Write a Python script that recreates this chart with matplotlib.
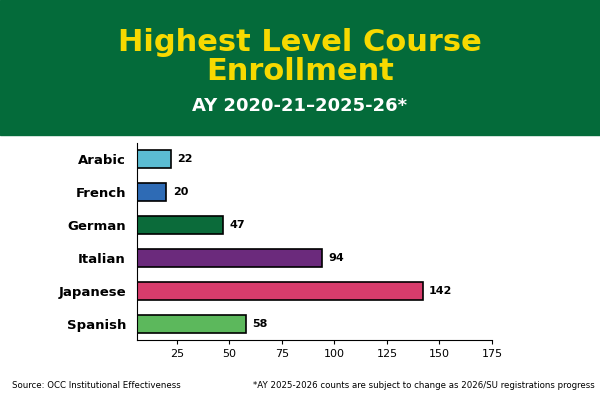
import matplotlib
matplotlib.use("Agg")
import matplotlib.pyplot as plt

languages = ["Arabic", "French", "German", "Italian", "Japanese", "Spanish"]
counts = [22, 20, 47, 94, 142, 58]
colors = ["#5bbcd2", "#2e6bb5", "#0b6b3a", "#6b2a7c", "#d83c6c", "#5cb85c"]
ticks = [25, 50, 75, 100, 125, 150, 175]

fig = plt.figure(figsize=(6, 4), dpi=100)
fig.patches.append(plt.Rectangle((0, 1 - 135/400), 1, 135/400, transform=fig.transFigure,
                                 color="#046b3a", zorder=0))
fig.text(0.5, 1 - 57/400, "Highest Level Course\nEnrollment", ha="center", va="center",
         color="#f7d900", fontsize=22, fontweight="bold", linespacing=1.0)
fig.text(0.5, 1 - 106/400, "AY 2020-21\u20132025-26*", ha="center", va="center",
         color="white", fontsize=13, fontweight="bold")

ax = fig.add_axes([137/600, 60/400, (492-137)/600, (400-143-60)/400])
y = list(range(len(languages)))[::-1]
ax.barh(y, counts, height=0.55, color=colors, edgecolor="black", linewidth=1.2, left=0)
for yi, c in zip(y, counts):
    ax.text(c + 3, yi, str(c), va="center", ha="left", fontsize=8, fontweight="bold")
ax.set_yticks(y)
ax.set_yticklabels(languages, fontweight="bold", fontsize=9.5)
ax.set_xticks(ticks)
ax.tick_params(axis="x", labelsize=8, length=3)
ax.tick_params(axis="y", length=0, pad=8)
ax.set_xlim(6, 175)
ax.set_ylim(-0.5, 5.5)
for s in ["top", "right"]:
    ax.spines[s].set_visible(False)

fig.text(12/600, 1 - 385/400, "Source: OCC Institutional Effectiveness", fontsize=6.2, va="center")
fig.text(595/600, 1 - 385/400,
         "*AY 2025-2026 counts are subject to change as 2026/SU registrations progress",
         fontsize=6.2, va="center", ha="right")
fig.savefig("out.png", dpi=100)
